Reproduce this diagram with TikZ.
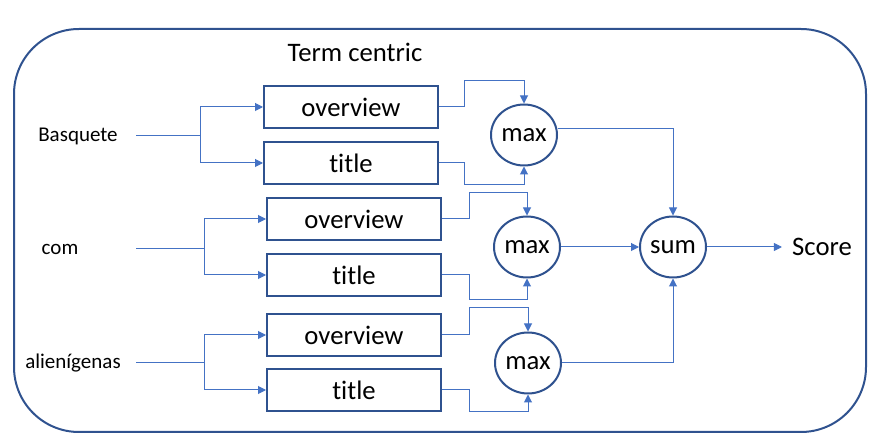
\documentclass[tikz,border=0pt]{standalone}
\usepackage{fontspec}
\setmainfont{Carlito}[Ligatures=NoCommon]
\usetikzlibrary{arrows.meta,shapes.geometric}
\definecolor{boxblue}{HTML}{2F528F}
\definecolor{lineblue}{HTML}{4472C4}

\begin{document}
\begin{tikzpicture}[x=1pt,y=-1pt,
		field/.style={draw=boxblue,line width=2pt,minimum width=174pt,minimum height=42pt,inner sep=0pt,font=\fontsize{26.7}{32}\selectfont},
		agg/.style={ellipse,draw=boxblue,line width=2pt,minimum width=66pt,minimum height=61pt,inner sep=0pt,font=\fontsize{26.7}{32}\selectfont},
		word/.style={inner sep=0pt,font=\fontsize{21}{25}\selectfont},
		link/.style={draw=lineblue,line width=1pt,-{Triangle[length=8pt,width=8pt]}}]
				\useasboundingbox (0,0) rectangle (879,443);
				\draw[boxblue,line width=2pt,rounded corners=65pt] (14,29) rectangle (866,432);
				
				\node[inner sep=0pt,font=\fontsize{26.7}{32}\selectfont] (head) at (355,52) {Term centric};
				
				\node[word] (bq) at (78,136) {Basquete};
				\node[word] (cm) at (60,249) {com};
				\node[word] (al) at (73,363) {alienígenas};
				\coordinate (in1) at (136,136);
				\coordinate (in2) at (136,249);
				\coordinate (in3) at (136,363);
				
				\node[field] (ov1) at (351,107) {overview};
				\node[field] (ti1) at (351,163) {title};
				\node[field] (ov2) at (354,219) {overview};
				\node[field] (ti2) at (354,275) {title};
				\node[field] (ov3) at (354,335) {overview};
				\node[field] (ti3) at (354,390) {title};
				
				\node[agg] (mx1) at (524,135) {max};
				\node[agg] (mx2) at (527,247) {max};
				\node[agg] (mx3) at (528,363) {max};
				\node[agg] (sm) at (673,247) {sum};
				\node[inner sep=0pt,font=\fontsize{26.7}{32}\selectfont] (sc) at (822,247) {Score};
				
				\draw[link] (in1) -- ++(64,0) |- (ov1.west);
				\draw[link] (in1) -- ++(64,0) |- (ti1.west);
				\draw[link] (in2) -- ++(68,0) |- (ov2.west);
				\draw[link] (in2) -- ++(68,0) |- (ti2.west);
				\draw[link] (in3) -- ++(68,0) |- (ov3.west);
				\draw[link] (in3) -- ++(68,0) |- (ti3.west);
				
				\draw[link] (ov1.east) -- ++(25,0) |- ([yshift=23pt]mx1.north) -- (mx1.north);
				\draw[link] (ti1.east) -- ++(25,0) |- ([yshift=-18pt]mx1.south) -- (mx1.south);
				\draw[link] (ov2.east) -- ++(27,0) |- ([yshift=23pt]mx2.north) -- (mx2.north);
				\draw[link] (ti2.east) -- ++(27,0) |- ([yshift=-21pt]mx2.south) -- (mx2.south);
				\draw[link] (ov3.east) -- ++(27,0) |- ([yshift=24pt]mx3.north) -- (mx3.north);
				\draw[link] (ti3.east) -- ++(27,0) |- ([yshift=-17pt]mx3.south) -- (mx3.south);
				
				\draw[link] ([yshift=6pt]mx1.east) -| (sm.north);
				\draw[link] (mx2.east) -- (sm.west);
				\draw[link] (mx3.east) -| (sm.south);
				\draw[link,shorten >=10pt] (sm.east) -- (sc.west);
			\end{tikzpicture}
\end{document}
